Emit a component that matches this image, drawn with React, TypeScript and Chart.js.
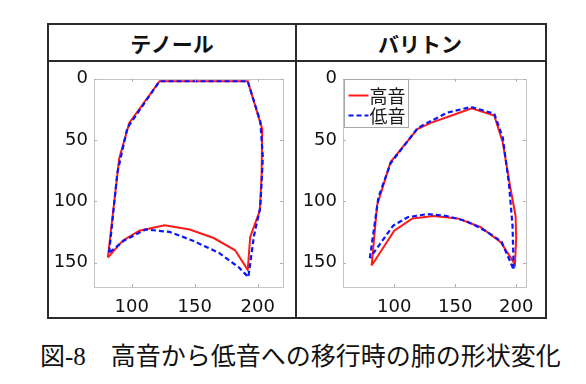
import React, { useEffect, useRef } from "react";
import { Chart, registerables } from "chart.js";
Chart.register(...registerables);

const panelTitles = ["テノール", "バリトン"];
const legendLabels = ["高音", "低音"];
const caption = "図-8　高音から低音への移行時の肺の形状変化";
const yTickValues = [0, 50, 100, 150];
const xTickValues = [100, 150, 200];

// テノール
const tenorHighX = [81, 90, 98, 122, 192, 203.5, 203, 201.5, 194, 192, 182, 165, 146, 126, 106, 93, 81];
const tenorHighY = [146, 65, 36, 2, 2, 41, 80, 108, 129, 156, 140, 130, 123, 119.5, 124, 132, 146];
const tenorLowX = [82, 88.5, 96.5, 122, 192, 202, 204, 202, 197, 192.5, 185, 169, 148, 130, 111, 94, 82];
const tenorLowY = [142, 77, 40, 2, 2, 35, 64, 105, 128, 162, 154, 142, 132, 125, 123, 132, 142];

// バリトン
const bariHighX = [81.5, 86, 97, 119, 130, 150, 163.5, 182, 189, 194.5, 199.5, 200, 199, 187.3, 170.6, 152, 132.3, 115, 100, 81.5];
const bariHighY = [152.5, 103, 68, 41, 36, 29, 24, 30, 52, 85, 112, 130, 151.5, 133.5, 121, 114, 112, 114, 124, 152.5];
const bariLowX = [80, 87, 97, 119, 127, 144, 163, 182, 189, 194, 197, 198, 188, 174.6, 158.7, 143, 127, 111, 99, 80];
const bariLowY = [146.5, 97, 69, 40.5, 36, 27.5, 23, 28.5, 48, 85, 120, 156, 133, 124, 116, 112, 110.5, 113, 120, 146.5];

const RED = "#ff1a1a";
const BLUE = "#0a14ff";

const toPts = (xs: number[], ys: number[]) => xs.map((x, i) => ({ x, y: ys[i] }));

type PanelProps = {
  hx: number[]; hy: number[]; lx: number[]; ly: number[];
  xMin: number; xMax: number; showLegend: boolean; yW: number;
  width: number; height: number;
};

const boxPlugin = {
  id: "matlabBox",
  afterDraw(chart: any, _args: any, opts: any) {
    const { ctx, chartArea: a, scales } = chart;
    ctx.save();
    ctx.strokeStyle = "#c4c4c4";
    ctx.lineWidth = 1;
    ctx.strokeRect(Math.round(a.left) + 0.5, Math.round(a.top) + 0.5, Math.round(a.right - a.left), Math.round(a.bottom - a.top));
    ctx.strokeStyle = "#b0b0b0";
    const tl = 3;
    xTickValues.forEach((v) => {
      const px = Math.round(scales.x.getPixelForValue(v)) + 0.5;
      ctx.beginPath();
      ctx.moveTo(px, a.bottom); ctx.lineTo(px, a.bottom - tl);
      ctx.moveTo(px, a.top); ctx.lineTo(px, a.top + tl);
      ctx.stroke();
    });
    yTickValues.forEach((v) => {
      const py = Math.round(scales.y.getPixelForValue(v)) + 0.5;
      ctx.beginPath();
      ctx.moveTo(a.left, py); ctx.lineTo(a.left + tl, py);
      ctx.moveTo(a.right, py); ctx.lineTo(a.right - tl, py);
      ctx.stroke();
    });
    if (opts && opts.legend) {
      const bx = Math.round(a.left) + 1.5;
      const by = Math.round(a.top) + 0.5;
      const bw = 64, bh = 48;
      ctx.fillStyle = "#ffffff";
      ctx.fillRect(bx, by, bw, bh);
      ctx.strokeStyle = "#a8a8a8";
      ctx.strokeRect(bx, by, bw, bh);
      const rows = [
        { label: legendLabels[0], color: RED, dash: [] as number[], lw: 2 },
        { label: legendLabels[1], color: BLUE, dash: [5, 3], lw: 2.2 },
      ];
      rows.forEach((r, i) => {
        const cy = by + 16 + i * 20;
        ctx.strokeStyle = r.color;
        ctx.lineWidth = r.lw;
        ctx.setLineDash(r.dash);
        ctx.beginPath();
        ctx.moveTo(bx + 4, cy); ctx.lineTo(bx + 24, cy);
        ctx.stroke();
        ctx.setLineDash([]);
        ctx.fillStyle = "#1a1a1a";
        ctx.font = "18px 'Noto Sans CJK JP'";
        ctx.textBaseline = "middle";
        ctx.textAlign = "left";
        ctx.fillText(r.label, bx + 25, cy + 1);
      });
    }
    ctx.restore();
  },
};

function Panel(p: PanelProps) {
  const ref = useRef<HTMLCanvasElement | null>(null);
  useEffect(() => {
    if (!ref.current) return;
    const tickFont = { family: "'DejaVu Sans'", size: 18 };
    const chart = new Chart(ref.current, {
      type: "line",
      data: {
        datasets: [
          { label: legendLabels[0], data: toPts(p.hx, p.hy), borderColor: RED, borderWidth: 2, pointRadius: 0, fill: false, tension: 0, order: 1 },
          { label: legendLabels[1], data: toPts(p.lx, p.ly), borderColor: BLUE, borderWidth: 2.2, borderDash: [5, 3], pointRadius: 0, fill: false, tension: 0, order: 0 },
        ],
      },
      options: {
        responsive: false,
        animation: false,
        devicePixelRatio: 1,
        layout: { padding: { top: 11, right: 12, left: 0, bottom: 0 } },
        plugins: { legend: { display: false }, tooltip: { enabled: false }, matlabBox: { legend: p.showLegend } } as any,
        scales: {
          x: {
            type: "linear", min: p.xMin, max: p.xMax,
            grid: { display: false, drawTicks: false }, border: { display: false },
            afterBuildTicks: (s: any) => { s.ticks = xTickValues.map((v) => ({ value: v })); },
            afterFit: (s: any) => { s.height = 30; },
            ticks: { font: tickFont, color: "#111", padding: 10, maxRotation: 0 },
          },
          y: {
            type: "linear", min: 0, max: 170, reverse: true,
            grid: { display: false, drawTicks: false }, border: { display: false },
            afterBuildTicks: (s: any) => { s.ticks = yTickValues.map((v) => ({ value: v })); },
            afterFit: (s: any) => { s.width = p.yW; },
            ticks: { font: tickFont, color: "#111", padding: 6 },
          },
        },
      } as any,
      plugins: [boxPlugin],
    });
    return () => chart.destroy();
  }, []);
  return <canvas ref={ref} width={p.width} height={p.height} style={{ display: "block", width: p.width, height: p.height }} />;
}

export default function App() {
  const line = "#2b2b2b";
  return (
    <div style={{ position: "absolute", left: 0, top: 0, width: 586, height: 384, background: "#fff", overflow: "hidden" }}>
      <div style={{ position: "absolute", left: 47, top: 23, width: 496, height: 292, border: `2px solid ${line}` }} />
      <div style={{ position: "absolute", left: 47, top: 60, width: 500, height: 2, background: line }} />
      <div style={{ position: "absolute", left: 295, top: 23, width: 2, height: 296, background: line }} />
      {panelTitles.map((t, i) => (
        <div key={t} style={{ position: "absolute", left: i === 0 ? 49 : 297, top: 25, width: 246, height: 35, display: "flex", alignItems: "center", justifyContent: "center", fontFamily: "'Noto Sans CJK JP'", fontWeight: 700, fontSize: 21, color: "#111" }}>{t}</div>
      ))}
      <div style={{ position: "absolute", left: 50, top: 62 }}>
        <Panel hx={tenorHighX} hy={tenorHighY} lx={tenorLowX} ly={tenorLowY} xMin={70} xMax={220} showLegend={false} yW={44} width={245} height={255} />
      </div>
      <div style={{ position: "absolute", left: 298, top: 62 }}>
        <Panel hx={bariHighX} hy={bariHighY} lx={bariLowX} ly={bariLowY} xMin={58} xMax={208} showLegend={true} yW={45} width={246} height={255} />
      </div>
      <div style={{ position: "absolute", left: 40, top: 342, whiteSpace: "nowrap", fontFamily: "'Liberation Serif', 'Noto Sans CJK JP'", fontSize: 25, lineHeight: "30px", color: "#111" }}>{caption}</div>
    </div>
  );
}
